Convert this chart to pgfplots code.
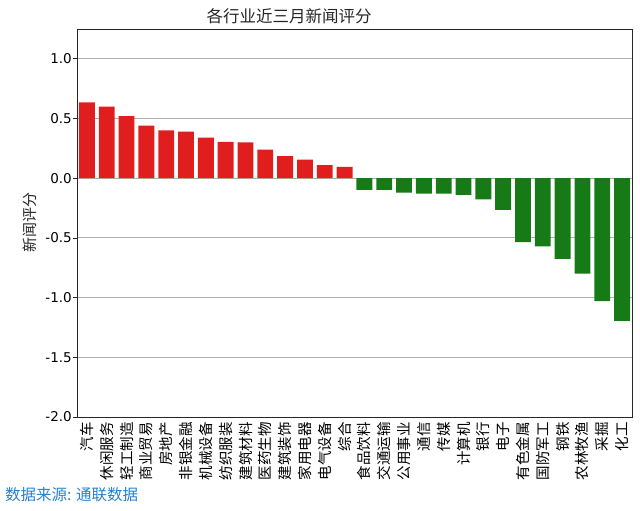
\documentclass[border=0pt]{standalone}
\usepackage{fontspec}
\setmainfont{DejaVu Sans}
\newfontfamily\cjk{Noto Sans CJK SC}
\usepackage{pgfplots}
\pgfplotsset{compat=1.18}
\definecolor{barred}{RGB}{225,30,30}
\definecolor{bargreen}{RGB}{22,122,22}
\definecolor{srcblue}{RGB}{40,128,205}
\definecolor{gridgray}{RGB}{176,176,176}
\begin{document}
\begin{tikzpicture}[x=1pt,y=1pt]
\path[use as bounding box] (0,0) rectangle (640,511);
\begin{axis}[
  at={(77pt,94pt)}, anchor=south west,
  scale only axis, width=555pt, height=388pt,
  xmin=-0.5, xmax=27.5, ymin=-2.0, ymax=1.25,
  xtick={0,...,27},
  xticklabels={汽车,休闲服务,轻工制造,商业贸易,房地产,非银金融,机械设备,纺织服装,建筑材料,医药生物,建筑装饰,家用电器,电气设备,综合,食品饮料,交通运输,公用事业,通信,传媒,计算机,银行,电子,有色金属,国防军工,钢铁,农林牧渔,采掘,化工},
  xticklabel style={font=\cjk\fontsize{14.5}{15}\selectfont, rotate=90, anchor=east, inner sep=1pt},
  major x tick style={draw=none},
  ytick={-2.0,-1.5,-1.0,-0.5,0.0,0.5,1.0},
  yticklabel style={font=\fontsize{13.5}{14}\selectfont, inner sep=1pt},
  /pgf/number format/assume math mode=true,
  /pgf/number format/fixed, /pgf/number format/fixed zerofill, /pgf/number format/precision=1,
  tick align=outside, major tick length=4pt,
  ytick pos=left,
  ymajorgrids, grid style={gridgray, line width=0.9pt},
  axis line style={black!85, line width=0.9pt},
  tick style={black!85, line width=0.8pt},
]
\addplot[ybar, bar width=0.8, bar shift=0pt, fill=barred, draw=none] coordinates {
(0,0.635) (1,0.60) (2,0.52) (3,0.44) (4,0.40) (5,0.39) (6,0.34) (7,0.305) (8,0.30) (9,0.24) (10,0.185) (11,0.155) (12,0.11) (13,0.095)
};
\addplot[ybar, bar width=0.8, bar shift=0pt, fill=bargreen, draw=none] coordinates {
(14,-0.098) (15,-0.098) (16,-0.12) (17,-0.128) (18,-0.128) (19,-0.14) (20,-0.177) (21,-0.265) (22,-0.535) (23,-0.57) (24,-0.675) (25,-0.80) (26,-1.03) (27,-1.195)
};
\end{axis}
\node[font=\cjk\fontsize{16.5}{17}\selectfont, text=black!85] at (289,494.5) {各行业近三月新闻评分};
\node[font=\cjk\fontsize{15}{15}\selectfont, rotate=90, text=black!85] at (30,288) {新闻评分};
\node[font=\cjk\fontsize{15.5}{16}\selectfont, text=srcblue, anchor=west, inner sep=0pt] at (5,16) {数据来源: 通联数据};
\end{tikzpicture}
\end{document}
